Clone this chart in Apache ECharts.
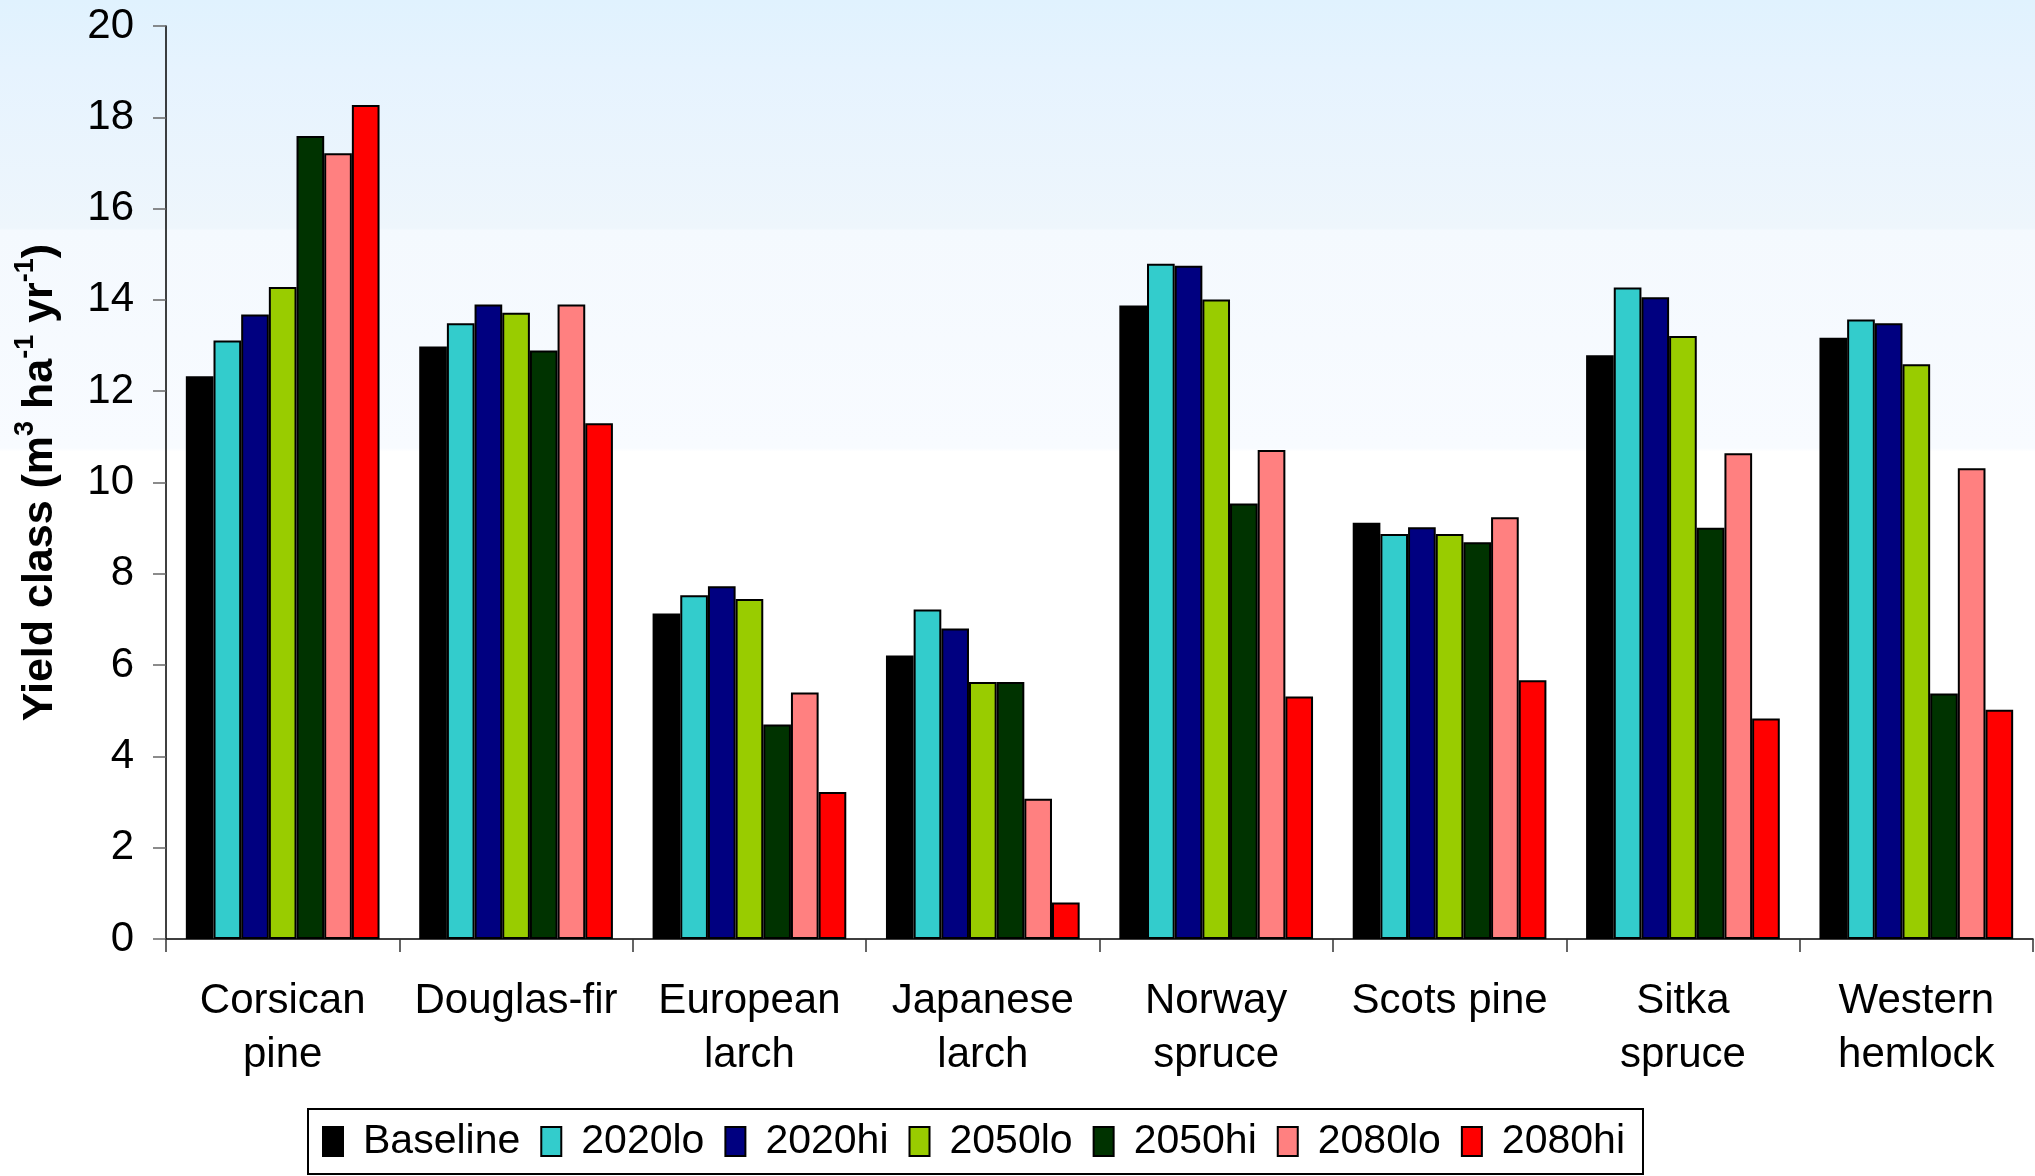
<!DOCTYPE html>
<html>
<head>
<meta charset="utf-8">
<title>Yield class by species and climate scenario</title>
<script src="https://cdn.jsdelivr.net/npm/echarts@6/dist/echarts.min.js"></script>
<style>
  html, body { margin: 0; padding: 0; background: #ffffff; }
  #chart { width: 2035px; height: 1176px; }
</style>
</head>
<body>
<div id="chart"></div>
<script>
// Species on the category axis
const species = [
  'Corsican\npine', 'Douglas-fir', 'European\nlarch', 'Japanese\nlarch',
  'Norway\nspruce', 'Scots pine', 'Sitka\nspruce', 'Western\nhemlock'
];

// Scenario names and fill colours
const scenarios = ['Baseline', '2020lo', '2020hi', '2050lo', '2050hi', '2080lo', '2080hi'];
const scenarioColors = ['#000000', '#33CCCC', '#000080', '#99CC00', '#003300', '#FF8080', '#FF0000'];

// Yield class (m3 ha-1 yr-1) per species, one array per scenario
const baseline = [12.33, 12.98, 7.13, 6.21, 13.88, 9.12, 12.79, 13.17];
const y2020lo  = [13.11, 13.49, 7.53, 7.22, 14.79, 8.87, 14.27, 13.57];
const y2020hi  = [13.68, 13.90, 7.73, 6.80, 14.75, 9.02, 14.06, 13.49];
const y2050lo  = [14.28, 13.72, 7.45, 5.63, 14.01, 8.87, 13.21, 12.59];
const y2050hi  = [17.59, 12.89, 4.70, 5.63, 9.54, 8.69, 9.01, 5.38];
const y2080lo  = [17.21, 13.90, 5.40, 3.07, 10.71, 9.24, 10.64, 10.31];
const y2080hi  = [18.27, 11.30, 3.22, 0.80, 5.31, 5.67, 4.83, 5.02];

// Value axis range
const yMin = 0, yMax = 20, yStep = 2;

const seriesValues = [baseline, y2020lo, y2020hi, y2050lo, y2050hi, y2080lo, y2080hi];
const FONT = '"Liberation Sans", Arial, Helvetica, sans-serif';

const chart = echarts.init(document.getElementById('chart'), null, { renderer: 'canvas' });

chart.setOption({
  animation: false,
  backgroundColor: {
    type: 'linear', x: 0, y: 0, x2: 0, y2: 1,
    colorStops: [
      { offset: 0.000, color: '#e0f2fe' },
      { offset: 0.060, color: '#e6f3fe' },
      { offset: 0.194, color: '#eef6fc' },
      { offset: 0.196, color: '#f4f9fe' },
      { offset: 0.381, color: '#f8fbff' },
      { offset: 0.384, color: '#ffffff' },
      { offset: 1.000, color: '#ffffff' }
    ]
  },
  textStyle: { fontFamily: FONT },
  grid: { left: 166, right: 2, top: 26, bottom: 237, containLabel: false },
  legend: {
    left: 308,
    top: 1109,
    orient: 'horizontal',
    backgroundColor: '#ffffff',
    borderColor: '#000000',
    borderWidth: 2,
    padding: [12, 18, 12, 14],
    itemGap: 20,
    itemWidth: 20,
    itemHeight: 29,
    icon: 'rect',
    textStyle: { fontFamily: FONT, fontSize: 41, color: '#000000', padding: [0, 0, 0, 15] },
    data: scenarios
  },
  xAxis: {
    type: 'category',
    data: species,
    boundaryGap: true,
    axisLine: { show: true, lineStyle: { color: '#000000', width: 1.5 } },
    axisTick: { show: true, length: 13, lineStyle: { color: '#333333', width: 1.5 } },
    axisLabel: {
      interval: 0, margin: 35, fontFamily: FONT, fontSize: 42, lineHeight: 54, color: '#000000'
    },
    splitLine: { show: false }
  },
  yAxis: {
    type: 'value',
    min: yMin, max: yMax, interval: yStep,
    name: '{b|Yield class (m}{s|3}{b| ha}{s|-1}{b| yr}{s|-1}{b|)}',
    nameLocation: 'middle',
    nameGap: 104,
    nameRotate: 90,
    nameTextStyle: {
      fontFamily: FONT,
      rich: {
        b: { fontFamily: FONT, fontSize: 43, fontWeight: 'bold', color: '#000000', lineHeight: 50, verticalAlign: 'bottom' },
        s: { fontFamily: FONT, fontSize: 27, fontWeight: 'bold', color: '#000000', lineHeight: 50, verticalAlign: 'top' }
      }
    },
    axisLine: { show: true, lineStyle: { color: '#000000', width: 1.5 } },
    axisTick: { show: true, length: 13, lineStyle: { color: '#666666', width: 1.5 } },
    axisLabel: { margin: 32, fontFamily: FONT, fontSize: 42, color: '#000000' },
    splitLine: { show: false }
  },
  series: scenarios.map((name, i) => ({
    name: name,
    type: 'bar',
    data: seriesValues[i],
    barGap: '0%',
    barCategoryGap: '17%',
    itemStyle: { color: scenarioColors[i], borderColor: '#000000', borderWidth: 2 },
    emphasis: { disabled: true }
  }))
});
</script>
</body>
</html>
